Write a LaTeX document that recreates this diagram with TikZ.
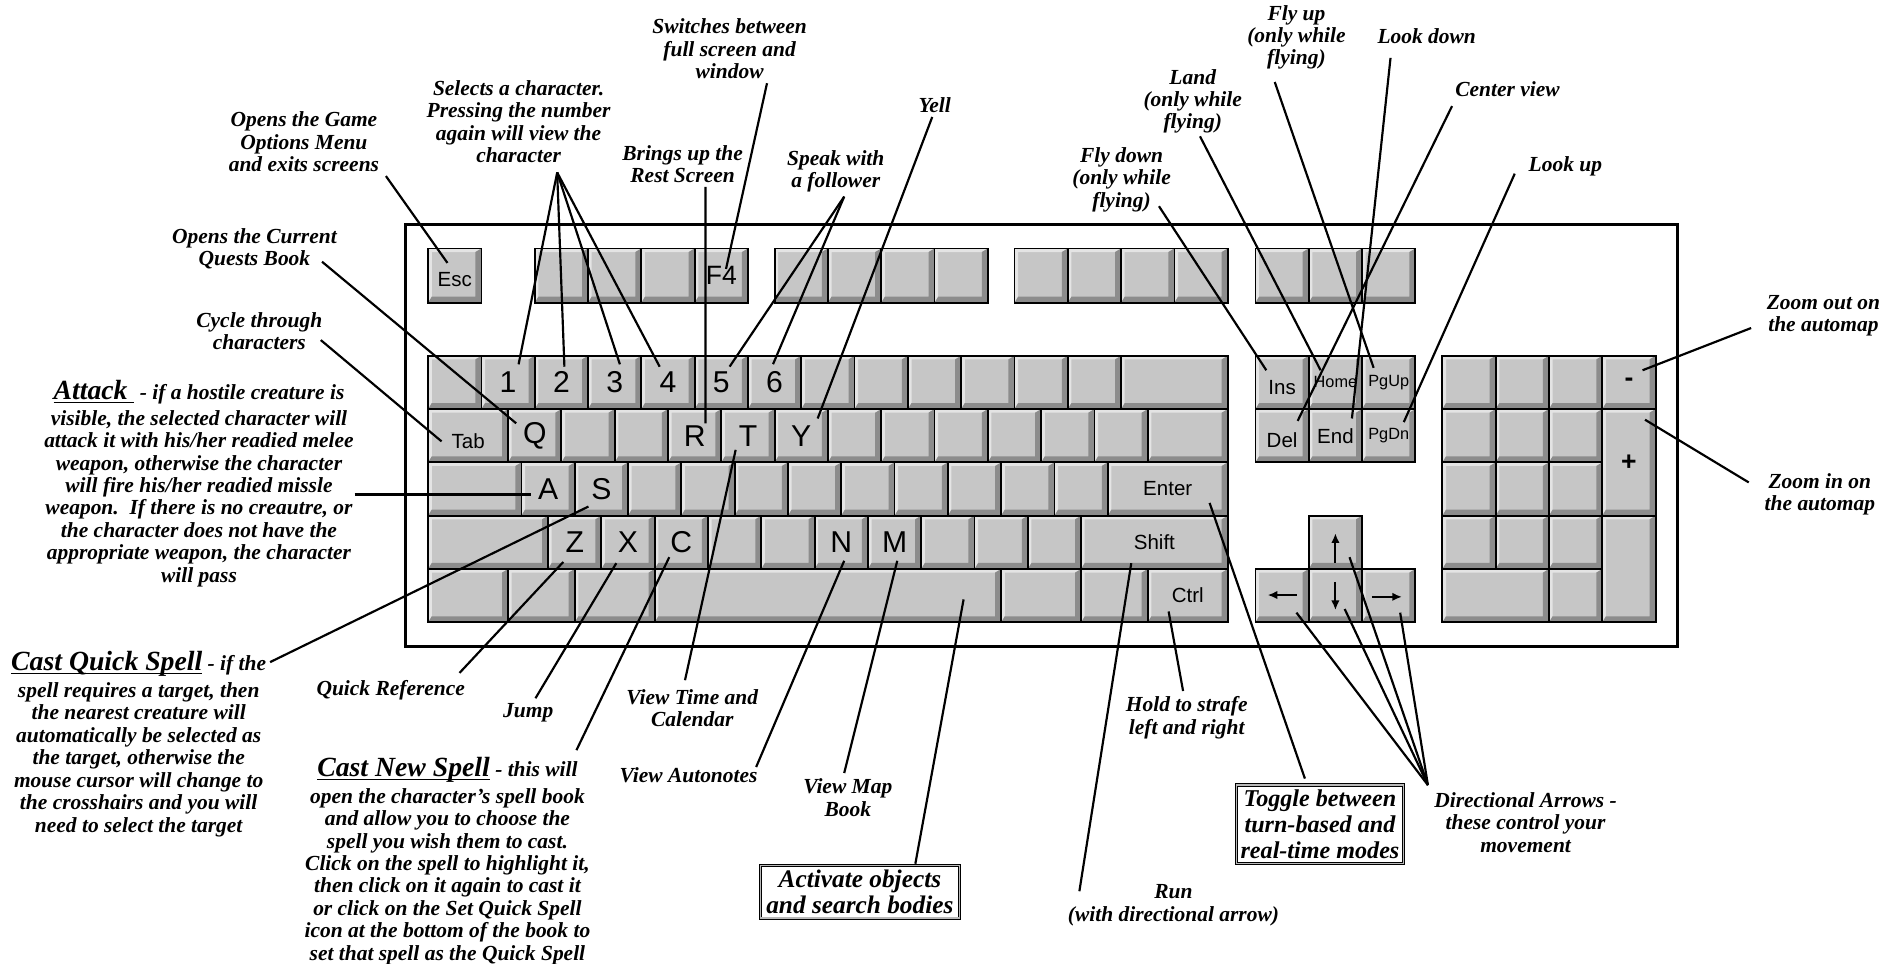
\documentclass[tikz,border=0pt]{standalone}
\usepackage{fontspec}
\setmainfont{Liberation Serif}
\newfontfamily\keyfam{Liberation Sans}
\usetikzlibrary{calc,arrows.meta}
\definecolor{keyface}{HTML}{C6C6C6}
\definecolor{keylight}{HTML}{E4E4E4}
\definecolor{keydark}{HTML}{8C8C8C}
\newcommand\myul[1]{\setbox0\hbox{#1}\rlap{\rule[-2.8pt]{\wd0}{1.2pt}}\box0}
\newcommand\K[7][]{\node[keycap,#1,minimum width={((#5)-(#3))*1pt},minimum height={((#6)-(#4))*1pt}] (#2) at ({((#3)+(#5))/2},{((#4)+(#6))/2}) {#7};}
\tikzset{
  keycap/.style={draw=black, line width=1.5pt, fill=keyface, inner sep=0pt,
    font=\keyfam\fontsize{25}{25}\selectfont,
    path picture={
      \coordinate (pSW) at (path picture bounding box.south west);
      \coordinate (pNE) at (path picture bounding box.north east);
      \coordinate (pNW) at (pSW|-pNE);
      \coordinate (pSE) at (pNE|-pSW);
      \fill[keylight] (pSW) -- (pNW) -- (pNE) -- ([shift={(-5pt,-3pt)}]pNE) -- ([shift={(3pt,-3pt)}]pNW) -- ([shift={(3pt,5pt)}]pSW) -- cycle;
      \fill[keydark] (pSW) -- ([shift={(3pt,5pt)}]pSW) -- ([shift={(-5pt,5pt)}]pSE) -- ([shift={(-5pt,-3pt)}]pNE) -- (pNE) -- (pSE) -- cycle;
    }},
  smallkey/.style={font=\keyfam\fontsize{17}{17}\selectfont},
  tinykey/.style={font=\keyfam\fontsize{13.5}{13.5}\selectfont},
  fkey/.style={font=\keyfam\fontsize{22}{22}\selectfont},
  signkey/.style={font=\keyfam\bfseries\fontsize{22}{22}\selectfont},
  kbframe/.style={draw=black, line width=2.5pt, inner sep=0pt},
  lab/.style={align=center, inner sep=0pt, font=\bfseries\itshape\fontsize{17.8}{18.6}\selectfont},
  boxlab/.style={align=center, draw=black, line width=0.8pt, double=gray!55, double distance=1.3pt,
    inner xsep=5pt, inner ysep=4pt, fill=white, font=\bfseries\itshape\fontsize{21}{21}\selectfont},
  conn/.style={line width=1.8pt, black},
  keyarrow/.style={line width=1.6pt, -{Latex[length=8pt,width=7pt]}}
}
\begin{document}
\begin{tikzpicture}[x=1pt,y=-1pt]
\useasboundingbox (0,0) rectangle (1568,799.3);
\fill[white] (0,0) rectangle (1568,799.3);
% keyboard frame
\node[kbframe, minimum width=1055pt, minimum height=350pt] (kbd) at (863.5,361) {};
% function row
\K[smallkey, text depth=0pt, text height=18pt]{esc}{355}{206}{399.2}{251}{Esc}
\foreach \i/\t in {0/{},1/{},2/{},3/F4} {\K[fkey]{fa\i}{443.4+\i*44.2}{206}{443.4+(\i+1)*44.2}{251}{\t}}
\foreach \i in {0,...,3} {\K{fb\i}{642.3+\i*44.2}{206}{642.3+(\i+1)*44.2}{251}{}}
\foreach \i in {0,...,3} {\K{fc\i}{841.2+\i*44.2}{206}{841.2+(\i+1)*44.2}{251}{}}
\foreach \i in {0,...,2} {\K{fd\i}{1041+\i*44.2}{206}{1041+(\i+1)*44.2}{251}{}}
% number row
\foreach \i/\t in {0/{},1/1,2/2,3/3,4/4,5/5,6/6,7/{},8/{},9/{},10/{},11/{},12/{}} {\K{r1k\i}{355+\i*44.2}{295}{355+(\i+1)*44.2}{339.2}{\t}}
\K{bksp}{929.6}{295}{1018}{339.2}{}
% tab row
\K[smallkey, text depth=0pt, text height=22pt]{tab}{355}{339.2}{421.3}{383.4}{Tab}
\foreach \i/\t in {0/Q,1/{},2/{},3/R,4/T,5/Y,6/{},7/{},8/{},9/{},10/{},11/{}} {\K{r2k\i}{421.3+\i*44.2}{339.2}{421.3+(\i+1)*44.2}{383.4}{\t}}
\K{bslash}{951.7}{339.2}{1018}{383.4}{}
% home row
\K{caps}{355}{383.4}{432.35}{427.6}{}
\foreach \i/\t in {0/A,1/S,2/{},3/{},4/{},5/{},6/{},7/{},8/{},9/{},10/{}} {\K{r3k\i}{432.35+\i*44.2}{383.4}{432.35+(\i+1)*44.2}{427.6}{\t}}
\K[smallkey]{enter}{918.55}{383.4}{1018}{427.6}{Enter}
% shift row
\K{lshift}{355}{427.6}{454.45}{471.8}{}
\foreach \i/\t in {0/Z,1/X,2/C,3/{},4/{},5/N,6/M,7/{},8/{},9/{}} {\K{r4k\i}{454.45+\i*44.2}{427.6}{454.45+(\i+1)*44.2}{471.8}{\t}}
\K[smallkey]{rshift}{896.45}{427.6}{1018}{471.8}{Shift}
% bottom row
\K{lctrl}{355}{471.8}{421.3}{516}{}
\K{lwin}{421.3}{471.8}{476.55}{516}{}
\K{lalt}{476.55}{471.8}{542.85}{516}{}
\K{space}{542.85}{471.8}{830.15}{516}{}
\K{ralt}{830.15}{471.8}{896.45}{516}{}
\K{rwin}{896.45}{471.8}{951.7}{516}{}
\K[smallkey]{ctrl}{951.7}{471.8}{1018}{516}{Ctrl}
% navigation cluster
\K[smallkey, text depth=0pt, text height=20pt]{kins}{1041}{295}{1085.2}{339.2}{Ins}
\K[tinykey]{khome}{1085.2}{295}{1129.4}{339.2}{Home}
\K[tinykey]{kpgup}{1129.4}{295}{1173.6}{339.2}{PgUp}
\K[smallkey, text depth=0pt, text height=20pt]{kdel}{1041}{339.2}{1085.2}{383.4}{Del}
\K[smallkey]{kend}{1085.2}{339.2}{1129.4}{383.4}{End}
\K[tinykey]{kpgdn}{1129.4}{339.2}{1173.6}{383.4}{PgDn}
% arrow keys
\K{aup}{1085.2}{427.6}{1129.4}{471.8}{}
\K{aleft}{1041}{471.8}{1085.2}{516}{}
\K{adown}{1085.2}{471.8}{1129.4}{516}{}
\K{aright}{1129.4}{471.8}{1173.6}{516}{}
\draw[keyarrow] ($(aleft)+(12,-0.5)$) -- ($(aleft)+(-12,-0.5)$);
\draw[keyarrow] ($(aup)+(0,17)$) -- ($(aup)+(0,-7.5)$);
\draw[keyarrow] ($(adown)+(0,-11.5)$) -- ($(adown)+(0,12)$);
\draw[keyarrow] ($(aright)+(-14,1)$) -- ($(aright)+(11,1)$);
% numeric keypad
\foreach \i in {0,...,2} {\K{np1\i}{1196+\i*44.2}{295}{1196+(\i+1)*44.2}{339.2}{}}
\K[signkey]{npminus}{1328.6}{295}{1372.8}{339.2}{-}
\foreach \i in {0,...,2} {\K{np2\i}{1196+\i*44.2}{339.2}{1196+(\i+1)*44.2}{383.4}{}}
\foreach \i in {0,...,2} {\K{np3\i}{1196+\i*44.2}{383.4}{1196+(\i+1)*44.2}{427.6}{}}
\K[signkey]{npplus}{1328.6}{339.2}{1372.8}{427.6}{+}
\foreach \i in {0,...,2} {\K{np4\i}{1196+\i*44.2}{427.6}{1196+(\i+1)*44.2}{471.8}{}}
\K{npenter}{1328.6}{427.6}{1372.8}{516}{}
\K{npzero}{1196}{471.8}{1284.4}{516}{}
\K{npdot}{1284.4}{471.8}{1328.6}{516}{}

% labels
\node[lab] (optsLbl) at (252,117.5) {Opens the Game\\Options Menu\\and exits screens};
\node[lab] (selLbl) at (430,101) {Selects a character.\\Pressing the number\\again will view the\\character};
\node[lab] (questLbl) at (211,206.5) {Opens the Current\\Quests Book};
\node[lab] (cycleLbl) at (215,274.5) {Cycle through\\characters};
\node[lab] (attackLbl) at (165,401) {{\fontsize{23}{23}\selectfont\myul{Attack\ }} - if a hostile creature is\\[2.5pt]visible, the selected character will\\attack it with his/her readied melee\\weapon, otherwise the character\\will fire his/her readied missle\\weapon.\ \ If there is no creautre, or\\the character does not have the\\appropriate weapon, the character\\will pass};
\node[lab] (quickLbl) at (115,617) {{\fontsize{23}{23}\selectfont\myul{Cast Quick Spell}} - if the\\[3.5pt]spell requires a target, then\\the nearest creature will\\automatically be selected as\\the target, otherwise the\\mouse cursor will change to\\the crosshairs and you will\\need to select the target};
\node[lab] (qrefLbl) at (324,572) {Quick Reference};
\node[lab] (jumpLbl) at (438,591) {Jump};
\node[lab] (newLbl) at (371,714) {{\fontsize{23}{23}\selectfont\myul{Cast New Spell}} - this will\\[3.5pt]open the character's spell book\\and allow you to choose the\\spell you wish them to cast.\\Click on the spell to highlight it,\\then click on it again to cast it\\or click on the Set Quick Spell\\icon at the bottom of the book to\\set that spell as the Quick Spell};
\node[lab] (timeLbl) at (574,587) {View Time and\\Calendar};
\node[lab] (autoLbl) at (571,643) {View Autonotes};
\node[lab] (mapLbl) at (703,661.5) {View Map\\Book};
\node[boxlab] (actLbl) at (713,739.5) {Activate objects\\and search bodies};
\node[lab] (runLbl) at (973,750.5) {Run\\(with directional arrow)};
\node[lab] (strafeLbl) at (984,595) {Hold to strafe\\left and right};
\node[boxlab, inner xsep=3.5pt, font=\bfseries\itshape\fontsize{20}{21.5}\selectfont] (toggleLbl) at (1094.5,683.5) {Toggle between\\turn-based and\\real-time modes};
\node[lab] (dirLbl) at (1265,682) {Directional Arrows -\\these control your\\movement};
\node[lab] (switchLbl) at (605,40.5) {Switches between\\full screen and\\window};
\node[lab] (restLbl) at (566,136) {Brings up the\\Rest Screen};
\node[lab] (speakLbl) at (693,142) {Speak with\\a follower};
\node[lab] (yellLbl) at (775,87) {Yell};
\node[lab] (landLbl) at (989,84) {Land\\(only while\\flying)};
\node[lab] (flydownLbl) at (930,149) {Fly down\\(only while\\flying)};
\node[lab] (flyupLbl) at (1075,31) {Fly up\\(only while\\flying)};
\node[lab] (lookdownLbl) at (1183,30) {Look down};
\node[lab] (centerLbl) at (1250,74) {Center view};
\node[lab] (lookupLbl) at (1298,138) {Look up};
\node[lab] (zoomoutLbl) at (1512,262) {Zoom out on\\the automap};
\node[lab] (zoominLbl) at (1509,410) {Zoom in on\\the automap};

% connectors
\draw[conn] ($(optsLbl)+(68,28.5)$) -- ($(esc)+(-6.1,-10.5)$);
\coordinate (selApex) at ($(selLbl)+(32,42)$);
\draw[conn] (selApex) -- ($(r1k1)+(8.7,-15)$);
\draw[conn] (selApex) -- ($(r1k2)+(2.5,-13)$);
\draw[conn] (selApex) -- ($(r1k3)+(4.3,-15)$);
\draw[conn] (selApex) -- ($(r1k4)+(-6.9,-13)$);
\draw[conn] ($(questLbl)+(56,10.5)$) -- ($(r2k0)+(-15.4,-10.3)$);
\draw[conn] ($(cycleLbl)+(51,7.5)$) -- ($(tab)+(-22,4.7)$);
\draw[conn] ($(attackLbl)+(129,9)$) -- ($(r3k0)+(-14.5,4.5)$);
\draw[conn] ($(quickLbl)+(109,-68)$) -- ($(r3k1)+(-10.7,14.5)$);
\draw[conn] ($(qrefLbl)+(57,-14)$) -- ($(r4k0)+(-9.5,16.3)$);
\draw[conn] ($(jumpLbl)+(6,-12)$) -- ($(r4k1)+(-9.75,17.3)$);
\draw[conn] ($(newLbl)+(107,-92)$) -- ($(r4k2)+(-10,12.3)$);
\draw[conn] ($(timeLbl)+(-6,-23)$) -- ($(r2k4)+(-10.2,11.7)$);
\draw[conn] ($(autoLbl)+(56,-7)$) -- ($(r4k5)+(2.45,15.3)$);
\draw[conn] ($(mapLbl)+(-3,-20.5)$) -- ($(r4k6)+(2.25,15.3)$);
\draw[conn] ($(actLbl.north)+(46,-1)$) -- ($(space)+(112.5,3.1)$);
\draw[conn] ($(runLbl)+(-78,-11.5)$) -- ($(rshift)+(-19.2,17.3)$);
\draw[conn] ($(strafeLbl)+(-3,-22)$) -- ($(ctrl)+(-15.85,13.1)$);
\draw[conn] ($(toggleLbl.north)+(-12.5,-5)$) -- ($(enter)+(34.7,11.5)$);
\coordinate (dirApex) at ($(dirLbl)+(-81,-31)$);
\draw[conn] (dirApex) -- ($(aleft)+(11.9,14.1)$);
\draw[conn] (dirApex) -- ($(adown)+(7.7,11.1)$);
\draw[conn] (dirApex) -- ($(aup)+(11.7,12.3)$);
\draw[conn] (dirApex) -- ($(aright)+(9.5,14.1)$);
\draw[conn] ($(switchLbl)+(31,28.5)$) -- ($(fa3)+(3.9,-5.5)$);
\draw[conn] ($(restLbl)+(19,19)$) -- ($(r2k3)+(9,-10.3)$);
\coordinate (speakApex) at ($(speakLbl)+(7,21)$);
\draw[conn] (speakApex) -- ($(r1k5)+(6.9,-13.1)$);
\draw[conn] (speakApex) -- ($(r1k6)+(-1.3,-15.1)$);
\draw[conn] ($(yellLbl)+(-2,10)$) -- ($(r2k5)+(13.6,-14.3)$);
\draw[conn] ($(landLbl)+(6,29)$) -- ($(khome)+(-12.3,-10.1)$);
\draw[conn] ($(flydownLbl)+(31,22)$) -- ($(kins)+(-13.1,-10.1)$);
\draw[conn] ($(flyupLbl)+(-18,37)$) -- ($(kpgup)+(-12.5,-12.1)$);
\draw[conn] ($(lookdownLbl)+(-30,18)$) -- ($(kend)+(13.7,-14.3)$);
\draw[conn] ($(centerLbl)+(-46,14)$) -- ($(kdel)+(12.9,-12.3)$);
\draw[conn] ($(lookupLbl)+(-42,6)$) -- ($(kpgdn)+(12.5,-11.3)$);
\draw[conn] ($(zoomoutLbl)+(-60,10)$) -- ($(npminus)+(11.3,-10.1)$);
\draw[conn] ($(zoominLbl)+(-59,-10)$) -- ($(npplus)+(13.3,-35.4)$);
\end{tikzpicture}
\end{document}
